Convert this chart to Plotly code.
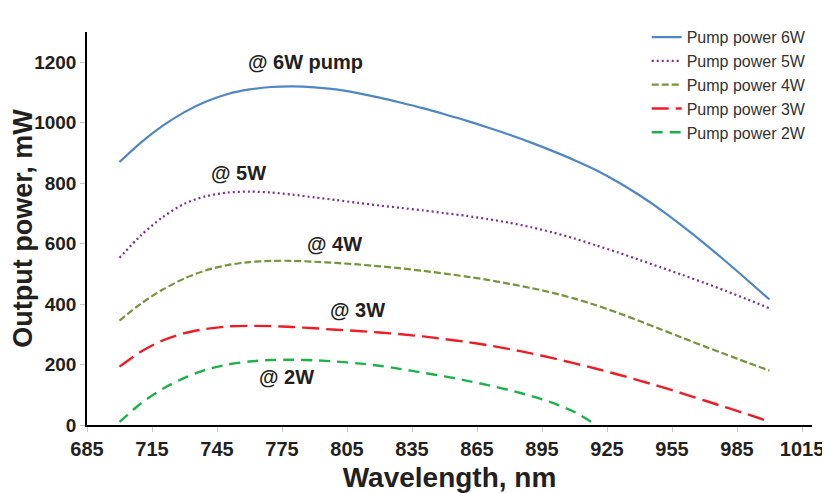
import plotly.graph_objects as go

# Wavelength (nm) sample points
wl = [700, 710, 720, 730, 740, 750, 760, 770, 780, 790, 800, 810, 820, 830, 840, 850,
      860, 870, 880, 890, 900, 910, 920, 930, 940, 950, 960, 970, 980, 990, 1000]
p6w = [870, 935, 990, 1035, 1070, 1095, 1110, 1118, 1120, 1117, 1110, 1098, 1083, 1066, 1048, 1028,
       1007, 984, 960, 934, 906, 876, 843, 804, 760, 711, 657, 600, 540, 478, 415]
p5w = [553, 628, 688, 732, 757, 769, 772, 769, 762, 753, 744, 735, 726, 718, 710, 701,
       692, 681, 669, 654, 637, 617, 594, 571, 546, 521, 496, 470, 443, 415, 386]
p4w = [345, 402, 448, 485, 512, 529, 539, 543, 543, 540, 536, 531, 525, 518, 510, 501,
       491, 480, 467, 453, 437, 418, 396, 371, 344, 316, 288, 260, 233, 206, 180]
p3w = [193, 243, 280, 304, 318, 326, 328, 327, 324, 320, 315, 311, 306, 300, 293, 284,
       275, 264, 251, 237, 221, 204, 186, 167, 147, 126, 104, 81, 58, 35, 11]
wl2 = [700, 710, 720, 730, 740, 750, 760, 770, 780, 790, 800, 810, 820, 830, 840, 850,
       860, 870, 880, 890, 900, 910, 920]
p2w = [10, 72, 120, 156, 183, 200, 210, 215, 216, 214, 210, 204, 196, 185, 173, 161,
       147, 132, 115, 96, 73, 43, 0]

x_ticks = [685, 715, 745, 775, 805, 835, 865, 895, 925, 955, 985, 1015]
y_ticks = [0, 200, 400, 600, 800, 1000, 1200]

labels = ["@ 6W pump", "@ 5W", "@ 4W", "@ 3W", "@ 2W"]
label_x = [786, 755, 799, 810, 777]
label_y = [1201, 832, 600, 380, 160]

FONT = "Liberation Sans, Arial, sans-serif"
TXT = "#231f20"

series = [
    ("Pump power 6W", wl, p6w, "#4f86c6", "solid", 2.2),
    ("Pump power 5W", wl, p5w, "#7f2f8e", "2px,3px", 2.2),
    ("Pump power 4W", wl, p4w, "#77933c", "7px,3px", 2.2),
    ("Pump power 3W", wl, p3w, "#ee1c25", "17px,7px", 2.4),
    ("Pump power 2W", wl2, p2w, "#1eb14a", "11px,7px", 2.4),
]

fig = go.Figure()
for name, xs, ys, color, dash, w in series:
    fig.add_trace(go.Scatter(x=xs, y=ys, name=name, mode="lines",
                             line=dict(color=color, dash=dash, width=w, shape="spline", smoothing=0.8)))

for t, xv, yv in zip(labels, label_x, label_y):
    fig.add_annotation(x=xv, y=yv, xref="x", yref="y", text=t, showarrow=False,
                       font=dict(family=FONT, size=20, color=TXT, weight="bold"))

# page body has an 8px margin, so the figure is 8px smaller and offset
fig.update_layout(
    width=822, height=485,
    margin=dict(l=79, r=18, t=24, b=68, autoexpand=False),
    paper_bgcolor="white", plot_bgcolor="white",
    font=dict(family=FONT, color=TXT),
    showlegend=True,
    legend=dict(xref="paper", yref="paper", x=0.772, y=1.03,
                xanchor="left", yanchor="top",
                font=dict(family=FONT, size=16, color="#333333"),
                bgcolor="rgba(0,0,0,0)", tracegroupgap=0, itemwidth=30),
    xaxis=dict(range=[685, 1019.6], tickvals=x_ticks, ticktext=[str(v) for v in x_ticks],
               showgrid=False, zeroline=False, showline=True, linecolor="black", linewidth=1.5,
               ticks="outside", ticklen=5, tickcolor="#c8c8c8", tickwidth=1,
               tickfont=dict(family=FONT, size=20, color=TXT, weight="bold"),
               title=dict(text="Wavelength, nm", standoff=9,
                          font=dict(family=FONT, size=28, color=TXT, weight="bold"))),
    yaxis=dict(range=[0, 1300], tickvals=y_ticks,
               showgrid=False, zeroline=False, showline=True, linecolor="black", linewidth=1.5,
               ticks="outside", ticklen=5, tickcolor="#c8c8c8", tickwidth=1,
               tickfont=dict(family=FONT, size=19, color=TXT, weight="bold"),
               title=dict(text="Output power, mW", standoff=11,
                          font=dict(family=FONT, size=27, color=TXT, weight="bold"))),
)

fig.write_html("out.html")
